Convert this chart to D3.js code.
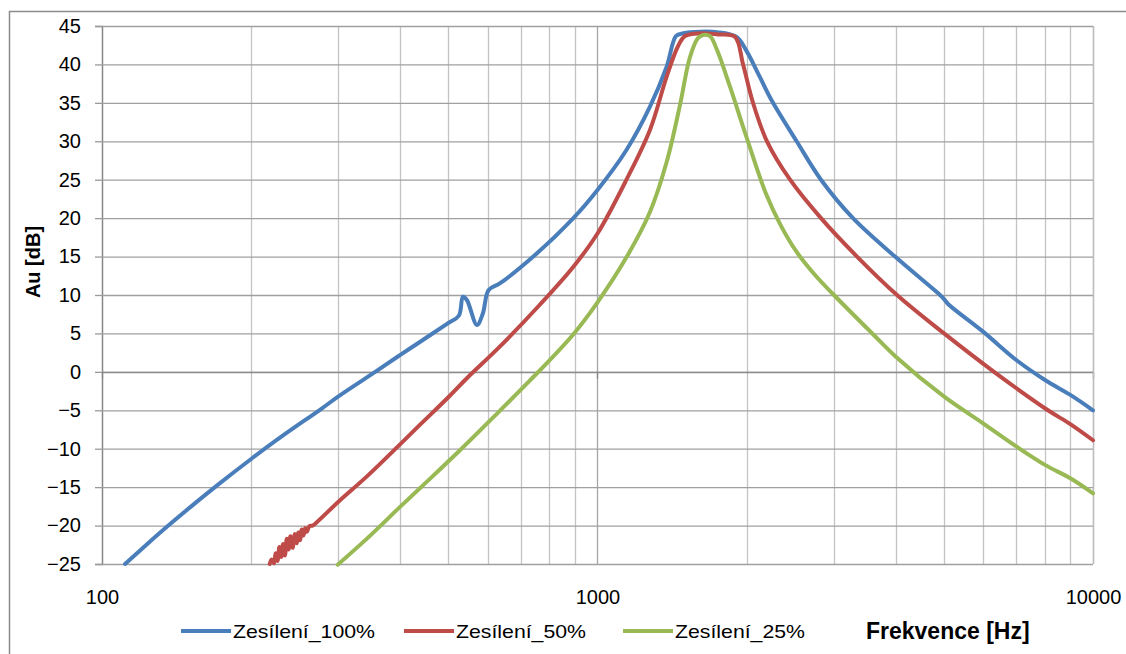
<!DOCTYPE html>
<html>
<head>
<meta charset="utf-8">
<script src="https://cdn.jsdelivr.net/npm/d3@7"></script>
<style>
  html, body { margin: 0; padding: 0; background: #fff; }
  svg { display: block; }
  text { font-family: "Liberation Sans", Arial, sans-serif; fill: #000; }
</style>
</head>
<body>
<svg id="chart" width="1126" height="654"></svg>
<script>
// Frequency response of the filter at three gain settings
const xTicks = [100, 1000, 10000];
const yTicks = [-25, -20, -15, -10, -5, 0, 5, 10, 15, 20, 25, 30, 35, 40, 45];
const seriesNames = ["Zesílení_100%", "Zesílení_50%", "Zesílení_25%"];
const seriesColors = ["#4a7ebb", "#be4b48", "#98b954"];

const freq100 = [111.3, 123.1, 136.1, 152.9, 170.5, 200, 228.6, 277.6, 300, 358.4, 400, 438, 497, 525, 535, 545, 571, 587, 603, 635, 742, 894, 1000, 1144, 1276, 1379, 1441, 1490, 1613, 1742, 1906, 1997, 2121, 2247, 2523, 2825, 3278, 3985, 4912, 5000, 5105, 6000, 7000, 8000, 9000, 10000];
const gain100 = [-25, -22.46, -20, -17.27, -14.8, -11.34, -8.57, -4.77, -3.19, 0.12, 2.21, 3.89, 6.25, 7.3, 9.78, 9.35, 6.1, 7.6, 10.65, 11.5, 15, 20, 23.66, 28.86, 34.5, 39.7, 43.7, 44.05, 44.26, 44.2, 43.6, 41.8, 38.5, 35.3, 30, 25, 20, 15, 10, 9.5, 8.8, 5.23, 1.54, -1.06, -3.0, -5];

const freq50 = [218, 220, 222.5, 224, 226, 228, 230, 232, 234, 236, 238, 240, 242.5, 245, 247, 249, 251, 253, 255, 257, 259, 262, 266, 271, 300, 342.5, 400, 438, 500, 545, 635, 764, 894, 1000, 1144, 1276, 1379, 1452, 1502, 1613, 1750, 1893, 1967, 2060, 2198, 2447, 2825, 3340, 4022, 5005, 6313, 8111, 9000, 10000];
const gain50 = [-25, -24.4, -24.9, -23.6, -24.6, -22.8, -24.1, -22.4, -23.9, -21.7, -23.1, -21.4, -22.9, -21.1, -22.3, -20.9, -21.9, -20.5, -21.3, -20.3, -20.8, -20.1, -20.0, -19.6, -16.9, -13.6, -9.4, -6.9, -3.3, -0.83, 3.28, 8.7, 13.68, 18.0, 25, 31.47, 38.4, 42.3, 43.7, 44.05, 43.9, 43.6, 40, 35, 30, 25, 20, 15, 10, 5, 0, -5, -6.8, -8.9];

const freq25 = [299, 342.5, 400, 438, 524, 627, 730, 800, 894, 1000, 1144, 1276, 1379, 1467, 1536, 1594, 1632, 1685, 1742, 1851, 1997, 2187, 2346, 2523, 2748, 3000, 3610, 4000, 5000, 6000, 7000, 8000, 9000, 10000];
const gain25 = [-25.1, -21.7, -17.54, -15.15, -10.4, -5.43, -1.14, 1.5, 4.9, 9.05, 14.9, 20.8, 27.3, 34.7, 40.9, 43.4, 43.83, 43.7, 41.9, 37.1, 30.6, 23.2, 19.0, 15.6, 12.6, 10.0, 4.8, 1.97, -3.2, -6.7, -9.7, -12.1, -13.85, -15.8];

const seriesData = [
  d3.zip(freq100, gain100),
  d3.zip(freq50, gain50),
  d3.zip(freq25, gain25)
];

const svg = d3.select("#chart");
const plot = { left: 102, right: 1093, top: 26, bottom: 564 };

const x = d3.scaleLog().domain([100, 10000]).range([plot.left, plot.right]);
const y = d3.scaleLinear().domain([-25, 45]).range([plot.bottom, plot.top]);

// outer chart frame
svg.append("rect")
  .attr("x", 9.5).attr("y", 11.5)
  .attr("width", 1300).attr("height", 800)
  .attr("fill", "none").attr("stroke", "#8c8c8c").attr("stroke-width", 1.5);

// vertical grid at every 1-9 step of each decade
const vGrid = x.ticks();
svg.append("g").selectAll("line").data(vGrid).join("line")
  .attr("x1", d => Math.round(x(d)) + 0.5).attr("x2", d => Math.round(x(d)) + 0.5)
  .attr("y1", plot.top).attr("y2", plot.bottom)
  .attr("stroke", d => xTicks.includes(d) ? "#a6a6a6" : "#c4c4c4")
  .attr("stroke-width", 1.3);

// y axis with horizontal gridlines
const yAxis = svg.append("g")
  .attr("transform", `translate(${plot.left},0)`)
  .call(d3.axisLeft(y).tickValues(yTicks).tickSize(7).tickPadding(14).tickFormat(d3.format("d")));
yAxis.select(".domain").attr("stroke", "#868686").attr("stroke-width", 1.3);
yAxis.selectAll(".tick line").attr("stroke", "#9a9a9a").attr("stroke-width", 1.3);
yAxis.selectAll(".tick").append("line")
  .attr("x1", 0).attr("x2", plot.right - plot.left)
  .attr("stroke", "#a0a0a0").attr("stroke-width", 1.3);
yAxis.selectAll(".tick text")
  .style("font-family", "'Liberation Sans', Arial, sans-serif")
  .style("font-size", "20px").attr("fill", "#000");

// horizontal axis line crossing at 0 dB with decade ticks
svg.append("line")
  .attr("x1", plot.left).attr("x2", plot.right)
  .attr("y1", Math.round(y(0)) + 0.5).attr("y2", Math.round(y(0)) + 0.5)
  .attr("stroke", "#8c8c8c").attr("stroke-width", 1.3);
svg.append("g").selectAll("line").data(xTicks).join("line")
  .attr("x1", d => Math.round(x(d)) + 0.5).attr("x2", d => Math.round(x(d)) + 0.5)
  .attr("y1", y(0)).attr("y2", y(0) + 7)
  .attr("stroke", "#868686").attr("stroke-width", 1.3);

// right edge of plot area
svg.append("line")
  .attr("x1", plot.right + 0.5).attr("x2", plot.right + 0.5)
  .attr("y1", plot.top).attr("y2", plot.bottom)
  .attr("stroke", "#bdbdbd").attr("stroke-width", 1.3);

// x tick labels at the bottom
const xAxis = svg.append("g")
  .attr("transform", `translate(0,${plot.bottom + 23})`)
  .call(d3.axisBottom(x).tickValues(xTicks).tickSize(0).tickFormat(d3.format("d")));
xAxis.select(".domain").remove();
xAxis.selectAll(".tick text")
  .style("font-family", "'Liberation Sans', Arial, sans-serif")
  .style("font-size", "20px").attr("fill", "#000");

// response curves
const line = d3.line()
  .x(d => x(d[0]))
  .y(d => y(d[1]))
  .curve(d3.curveCatmullRom.alpha(0.5));

svg.append("g").selectAll("path").data(seriesData).join("path")
  .attr("d", line)
  .attr("fill", "none")
  .attr("stroke", (d, i) => seriesColors[i])
  .attr("stroke-width", 4)
  .attr("stroke-linejoin", "round")
  .attr("stroke-linecap", "round");

// axis titles
svg.append("text")
  .attr("transform", "translate(40,262) rotate(-90)")
  .attr("text-anchor", "middle")
  .style("font-weight", "bold").style("font-size", "20px")
  .text("Au [dB]");

svg.append("text")
  .attr("x", 866).attr("y", 639)
  .style("font-weight", "bold").style("font-size", "23px")
  .text("Frekvence [Hz]");

// legend
const legendX = [181, 404, 623];
const legendTextWidth = [142, 130, 130];
const legend = svg.append("g").selectAll("g").data(seriesNames).join("g")
  .attr("transform", (d, i) => `translate(${legendX[i]},631)`);
legend.append("line")
  .attr("x1", 0).attr("x2", 50).attr("y1", 0).attr("y2", 0)
  .attr("stroke", (d, i) => seriesColors[i]).attr("stroke-width", 4);
legend.append("text")
  .attr("x", 52).attr("y", 7)
  .attr("textLength", (d, i) => legendTextWidth[i])
  .attr("lengthAdjust", "spacingAndGlyphs")
  .style("font-size", "19px")
  .text(d => d);
</script>
</body>
</html>
